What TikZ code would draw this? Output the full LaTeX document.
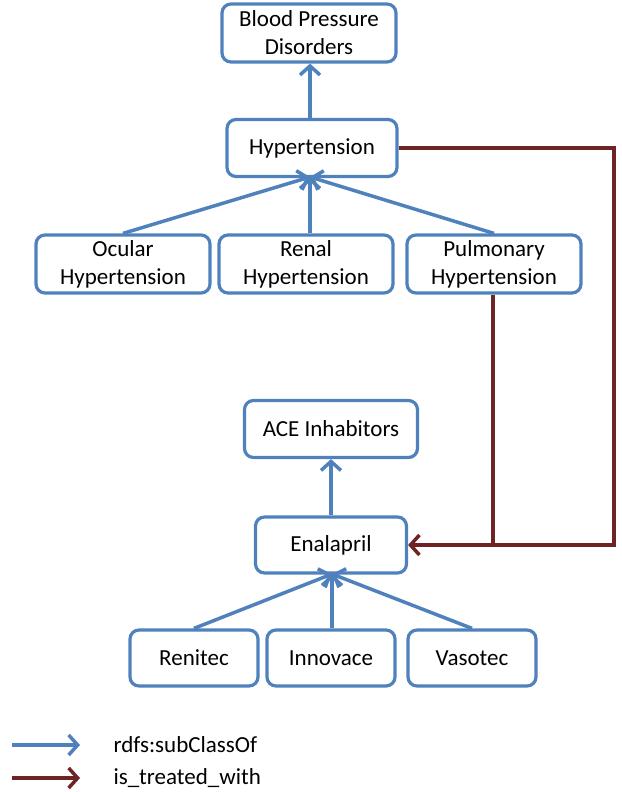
\documentclass[tikz,border=0pt]{standalone}
\usepackage{fontspec}
\setmainfont{Carlito}
\usetikzlibrary{arrows.meta}
\definecolor{sub}{RGB}{79,129,189}
\definecolor{trt}{RGB}{110,36,36}
\tikzset{
  box/.style={draw=sub, line width=3.2pt, rounded corners=9pt, fill=white, align=center,
    font=\fontsize{23}{28}\selectfont, inner sep=0pt},
  subarrow/.style={draw=sub, line width=3.5pt, -{Straight Barb[length=9pt,width=20pt,line width=3.5pt]}},
  trtline/.style={draw=trt, line width=3.5pt},
  trtarrow/.style={draw=trt, line width=3.5pt, -{Straight Barb[length=9pt,width=20pt,line width=3.5pt]}},
  legtext/.style={anchor=west, font=\fontsize{23}{27}\selectfont}
}
\begin{document}
\begin{tikzpicture}[x=1pt,y=-1pt]
\useasboundingbox (0,0) rectangle (621,792);
\node[box, minimum width=174pt, minimum height=58pt] (bpd) at (309,33) {Blood Pressure\\Disorders};
\node[box, minimum width=170pt, minimum height=57pt] (hyp) at (312,148) {Hypertension};
\node[box, minimum width=174pt, minimum height=58pt] (oc) at (123,264) {Ocular\\Hypertension};
\node[box, minimum width=174pt, minimum height=58pt] (ren) at (306,264) {Renal\\Hypertension};
\node[box, minimum width=174pt, minimum height=58pt] (pul) at (494,264) {Pulmonary\\Hypertension};
\node[box, minimum width=173pt, minimum height=57pt] (ace) at (331,429) {ACE Inhabitors};
\node[box, minimum width=151pt, minimum height=56pt] (ena) at (331,545) {Enalapril};
\node[box, minimum width=128pt, minimum height=56pt] (rnt) at (194,658) {Renitec};
\node[box, minimum width=128pt, minimum height=56pt] (inn) at (331,658) {Innovace};
\node[box, minimum width=128pt, minimum height=56pt] (vas) at (472,658) {Vasotec};

\coordinate (hypb) at (310,177);
\coordinate (enab) at (332,574);
\draw[subarrow] (hyp.north -| 310,0) -- (bpd.south -| 310,0);
\draw[subarrow] (oc.north) -- (hypb);
\draw[subarrow] (ren.north -| 310,0) -- (hypb);
\draw[subarrow] (pul.north) -- (hypb);
\draw[subarrow] (ena.north) -- (ace.south);
\draw[subarrow] (rnt.north) -- (enab);
\draw[subarrow] (inn.north -| 332,0) -- (enab);
\draw[subarrow] (vas.north) -- (enab);

\coordinate (c1) at (614,148);
\coordinate (c2) at (614,545);
\coordinate (j) at (493,545);
\draw[trtarrow] (hyp.east) -- (c1) -- (c2) -- (ena.east);
\draw[trtline] (pul.south -| j) -- (j);

\coordinate (l1a) at (12,745);
\coordinate (l1b) at (80,745);
\coordinate (l2a) at (12,778);
\coordinate (l2b) at (80,778);
\draw[subarrow] (l1a) -- (l1b);
\draw[trtarrow] (l2a) -- (l2b);
\node[legtext] (t1) at (110,745) {rdfs:subClassOf};
\node[legtext] (t2) at (110,778) {is\_treated\_with};
\end{tikzpicture}
\end{document}
